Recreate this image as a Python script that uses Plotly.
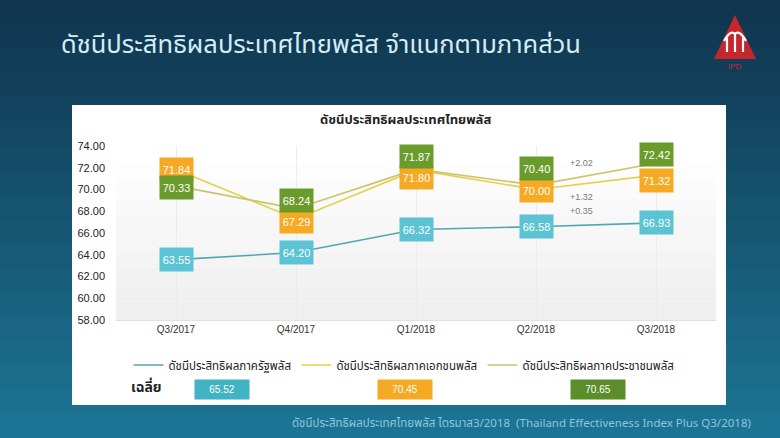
import plotly.graph_objects as go

# ---------------- data ----------------
quarters = ["Q3/2017", "Q4/2017", "Q1/2018", "Q2/2018", "Q3/2018"]
gov = [63.55, 64.20, 66.32, 66.58, 66.93]
private = [71.84, 67.29, 71.80, 70.00, 71.32]
people = [70.33, 68.24, 71.87, 70.40, 72.42]
series_names = ["ดัชนีประสิทธิผลภาครัฐพลัส", "ดัชนีประสิทธิผลภาคเอกชนพลัส", "ดัชนีประสิทธิผลภาคประชาชนพลัส"]
y_ticks = [58, 60, 62, 64, 66, 68, 70, 72, 74]

main_title = "ดัชนีประสิทธิผลประเทศไทยพลัส จำแนกตามภาคส่วน"
chart_title = "ดัชนีประสิทธิผลประเทศไทยพลัส"
avg_label = "เฉลี่ย"
footer = "ดัชนีประสิทธิผลประเทศไทยพลัส ไตรมาส3/2018  (Thailand Effectiveness Index Plus Q3/2018)"

# ---------------- style ----------------
W, H = 780, 438
L, R, T, B = 116, 716, 146, 320
line_colors = ["#4fa7ae", "#e6d04a", "#c8c56c"]
box_colors = ["#5cc3d5", "#f6a922", "#6b9b2b"]
avg_colors = ["#41b3c2", "#f6a922", "#5b8d2b"]
label_shift = [[0, 0, 0, 0, 0], [0, -3, -8, -1, -5], [-2, 8, 13, 17, 9]]
FONT = "Tahoma, 'Noto Sans Thai', 'Leelawadee UI', 'DejaVu Sans', sans-serif"


def px(x):
    return (x - L) / (R - L)


def py(y):
    return (B - y) / (B - T)


fig = go.Figure()
all_series = [gov, private, people]
for name, vals, lc in zip(series_names, all_series, line_colors):
    fig.add_trace(go.Scatter(x=quarters, y=vals, mode="lines", name=name,
                             line=dict(color=lc, width=1.6)))

shapes = []
# background gradient of the page
top_c = (16, 54, 79)
bot_c = (28, 116, 148)
n = 18
for i in range(n):
    t = i / (n - 1)
    c = tuple(int(top_c[k] + (bot_c[k] - top_c[k]) * t) for k in range(3))
    y0 = H * i / n
    y1 = H * (i + 1) / n + 1
    shapes.append(dict(type="rect", xref="paper", yref="paper", x0=px(0), x1=px(W),
                       y0=py(y1), y1=py(y0), fillcolor="rgb(%d,%d,%d)" % c,
                       line=dict(width=0), layer="below"))
# white panel
shapes.append(dict(type="rect", xref="paper", yref="paper", x0=px(72), x1=px(726),
                   y0=py(405), y1=py(105), fillcolor="#ffffff", line=dict(width=0), layer="below"))
# plot area soft gradient
m = 10
for i in range(m):
    t = i / (m - 1)
    g = int(255 - 16 * t)
    shapes.append(dict(type="rect", xref="paper", yref="paper", x0=0, x1=1,
                       y0=1 - (i + 1) / m, y1=1 - i / m,
                       fillcolor="rgb(%d,%d,%d)" % (g, g, g), line=dict(width=0), layer="below"))
# logo
shapes.append(dict(type="path", xref="paper", yref="paper",
                   path="M %f %f L %f %f L %f %f Z" % (px(735), py(15), px(714), py(59), px(756), py(59)),
                   fillcolor="#c8262d", line=dict(width=0), layer="above"))
for (x0, y0, x1, y1) in [(727, 38, 727, 52), (735, 33, 735, 52), (743, 38, 743, 52)]:
    shapes.append(dict(type="line", xref="paper", yref="paper", x0=px(x0), y0=py(y0),
                       x1=px(x1), y1=py(y1), line=dict(color="white", width=2.2)))
shapes.append(dict(type="path", xref="paper", yref="paper",
                   path="M %f %f Q %f %f %f %f Q %f %f %f %f" % (px(724), py(41), px(731), py(29), px(735), py(34),
                                                              px(739), py(29), px(746), py(41)),
                   line=dict(color="white", width=2.2), fillcolor="rgba(0,0,0,0)"))

ann = []
# data labels
for vals, bc, shifts in zip(all_series, box_colors, label_shift):
    for q, v, s in zip(quarters, vals, shifts):
        ann.append(dict(x=q, y=v, text="%.2f" % v, showarrow=False, yshift=s,
                        xanchor="center", yanchor="middle",
                        bgcolor=bc, width=31, height=21,
                        font=dict(color="white", size=11, family="Arial")))
# deltas between last two quarters
delta_specs = [(people, 0), (private, -22), (gov, 12)]
for vals, s in delta_specs:
    d = vals[-1] - vals[-2]
    ann.append(dict(x=3.27, y=vals[-1], text="%+.2f" % d, showarrow=False, xanchor="left",
                    yanchor="middle", yshift=s, font=dict(color="#7a7a7a", size=9, family="Arial")))
# averages
avg_x = [222, 405, 598]
for vals, ac, ax in zip(all_series, avg_colors, avg_x):
    avg = sum(vals) / len(vals)
    ann.append(dict(xref="paper", yref="paper", x=px(ax), y=py(389), text="%.2f" % avg,
                    xanchor="center", yanchor="middle",
                    showarrow=False, bgcolor=ac, width=52, height=17,
                    font=dict(color="white", size=10, family="Arial")))
ann.append(dict(xref="paper", yref="paper", x=px(146), y=py(387), text="<b>%s</b>" % avg_label,
                xanchor="center", yanchor="middle",
                showarrow=False, font=dict(color="#222", size=14, family=FONT)))
# titles
ann.append(dict(xref="paper", yref="paper", x=px(405), y=py(120), text="<b>%s</b>" % chart_title,
                xanchor="center", yanchor="middle",
                showarrow=False, font=dict(color="#222", size=13, family=FONT)))
ann.append(dict(xref="paper", yref="paper", x=px(59), y=py(45), xanchor="left", yanchor="middle",
                text=main_title, showarrow=False, font=dict(color="#d3edf4", size=25.5, family=FONT)))
ann.append(dict(xref="paper", yref="paper", x=px(753), y=py(423), xanchor="right", yanchor="middle",
                text=footer, showarrow=False, font=dict(color="#8ec6da", size=11.5, family=FONT)))
ann.append(dict(xref="paper", yref="paper", x=px(735), y=py(67), text="IPD",
                xanchor="center", yanchor="middle",
                showarrow=False, font=dict(color="#c8262d", size=8, family="Arial")))

fig.update_layout(
    width=W, height=H,
    margin=dict(l=L, r=W - R, t=T, b=H - B),
    paper_bgcolor="#16506c", plot_bgcolor="#ffffff",
    shapes=shapes, annotations=ann,
    showlegend=True,
    legend=dict(orientation="h", x=px(404), xanchor="center", y=py(365), yanchor="middle",
                font=dict(size=11.5, color="#222", family=FONT), itemwidth=30,
                bgcolor="rgba(0,0,0,0)", traceorder="normal"),
    xaxis=dict(showgrid=True, gridcolor="#ececec", gridwidth=1, showline=True, linecolor="#e0e0e0",
               tickfont=dict(size=10, color="#333", family="Arial"), ticks="", zeroline=False,
               range=[-0.5, 4.5]),
    yaxis=dict(range=[58, 74], tickvals=y_ticks, tickformat=".2f", showgrid=False, zeroline=False,
               tickfont=dict(size=11, color="#222", family="Arial"), ticks="", ticklabelstandoff=10),
)

fig.write_html("out.html", config={"displayModeBar": False},
               post_script="document.body.style.margin='0';")
